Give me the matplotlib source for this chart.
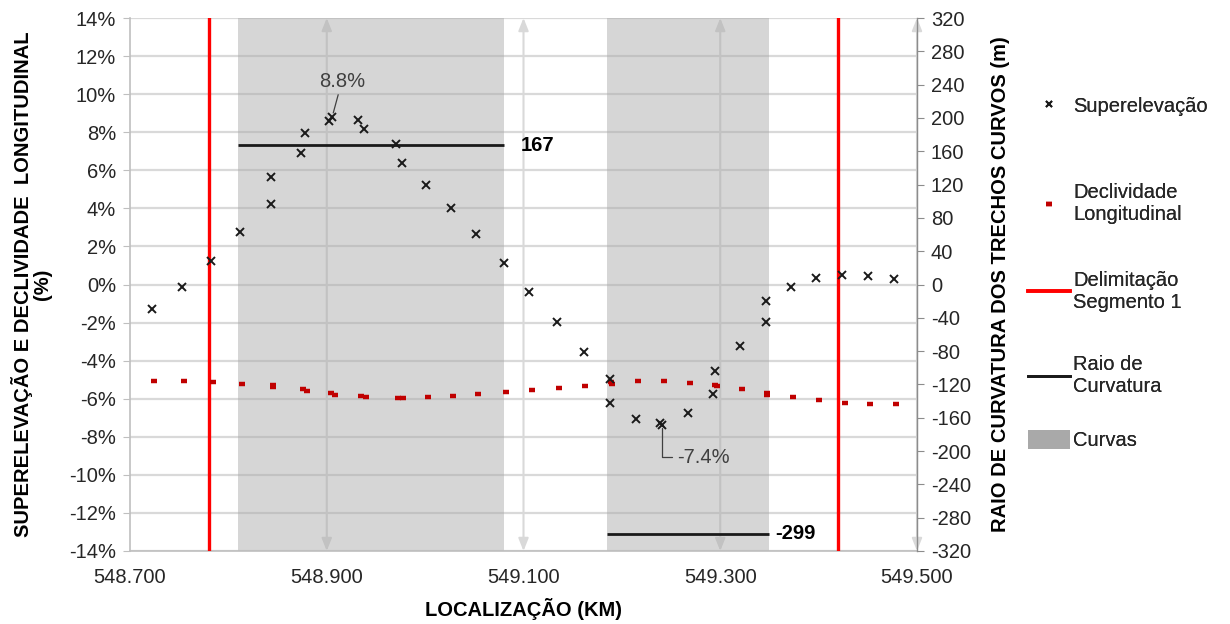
import matplotlib
matplotlib.use("Agg")
import matplotlib.pyplot as plt
from matplotlib.lines import Line2D
from matplotlib.patches import Patch
from matplotlib.ticker import FuncFormatter

plt.rcParams['font.family'] = ['Liberation Sans', 'DejaVu Sans']

# ---------------- data ----------------
super_km = [548.7227, 548.7525, 548.782, 548.812, 548.843, 548.843, 548.874, 548.878,
            548.902, 548.9055, 548.932, 548.938, 548.970, 548.976, 549.0005, 549.026,
            549.052, 549.080, 549.106, 549.134, 549.161, 549.1875, 549.1875, 549.214,
            549.239, 549.241, 549.2675, 549.293, 549.295, 549.320, 549.346, 549.346,
            549.372, 549.397, 549.424, 549.4497, 549.4766]
super_pct = [-1.29, -0.12, 1.25, 2.74, 4.21, 5.66, 6.92, 7.94,
             8.59, 8.80, 8.64, 8.15, 7.36, 6.40, 5.23, 4.00,
             2.64, 1.13, -0.40, -1.99, -3.53, -4.98, -6.21, -7.05,
             -7.28, -7.40, -6.73, -5.77, -4.54, -3.23, -1.95, -0.88,
             -0.11, 0.36, 0.50, 0.46, 0.29]

decl_km = [548.7246, 548.7546, 548.784, 548.814, 548.845, 548.845, 548.876, 548.880,
           548.904, 548.9086, 548.935, 548.940, 548.972, 548.978, 549.003, 549.028,
           549.054, 549.082, 549.1086, 549.1365, 549.163, 549.189, 549.190, 549.2164,
           549.243, 549.269, 549.295, 549.2967, 549.322, 549.348, 549.348, 549.374,
           549.400, 549.4265, 549.452, 549.4786]
decl_pct = [-5.07, -5.07, -5.14, -5.24, -5.28, -5.40, -5.49, -5.61,
            -5.70, -5.82, -5.86, -5.93, -5.98, -5.98, -5.93, -5.87,
            -5.77, -5.66, -5.55, -5.45, -5.35, -5.14, -5.24, -5.09,
            -5.09, -5.19, -5.26, -5.33, -5.51, -5.68, -5.80, -5.93,
            -6.08, -6.21, -6.26, -6.26]

segment_limits_km = [548.780, 549.420]

curve_start_km = [548.810, 549.185]
curve_end_km = [549.080, 549.350]
curve_radius_m = [167, -299]

x_ticks = [548.7, 548.9, 549.1, 549.3, 549.5]
left_ticks = list(range(-14, 15, 2))
right_ticks = list(range(-320, 321, 40))

max_label = (548.9055, 8.80, "8.8%")
min_label = (549.241, -7.40, "-7.4%")

legend_labels = ["Superelevação", "Declividade\nLongitudinal", "Delimitação\nSegmento 1",
                 "Raio de\nCurvatura", "Curvas"]

# ---------------- figure ----------------
FS = 14.5
fig = plt.figure(figsize=(12.3, 6.24), dpi=100)
ax = fig.add_axes([130 / 1230, 1 - 551 / 624, (917 - 130) / 1230, (551 - 18) / 624])
ax2 = ax.twinx()

ax.set_xlim(548.7, 549.5)
ax.set_ylim(-14, 14)
ax2.set_ylim(-320, 320)

grid_c = '#D9D9D9'
txt_c = '#262626'

# horizontal gridlines
ax.set_yticks(left_ticks)
ax.yaxis.grid(True, color=grid_c, lw=1.6, zorder=0)
ax.set_axisbelow(True)

# vertical gridlines with arrow heads
for xt in x_ticks[1:]:
    ax.annotate('', xy=(xt, 1.0), xytext=(xt, 0.0),
                xycoords=('data', 'axes fraction'), textcoords=('data', 'axes fraction'),
                arrowprops=dict(arrowstyle='<|-|>,head_length=0.75,head_width=0.3',
                                color=grid_c, lw=1.5, shrinkA=0, shrinkB=0),
                zorder=1)

# curve shading
for s, e in zip(curve_start_km, curve_end_km):
    ax.axvspan(s, e, color='#A6A6A6', alpha=0.45, lw=0, zorder=1.5)

# segment delimitation
for xv in segment_limits_km:
    ax.axvline(xv, color='#FF0000', lw=2.4, zorder=3)

# data series
ax.plot(decl_km, decl_pct, ls='none', marker='_', ms=5, mew=3.2, color='#C00000', zorder=4)
ax.plot(super_km, super_pct, ls='none', marker='x', ms=6, mew=1.4, color='#1A1A1A', zorder=5)

# radius of curvature on secondary axis
for s, e, r in zip(curve_start_km, curve_end_km, curve_radius_m):
    ax2.hlines(r, s, e, color='#1A1A1A', lw=2.0, zorder=4)
ax2.annotate(f"{curve_radius_m[0]}", xy=(curve_end_km[0], curve_radius_m[0]),
             xytext=(12, 0), textcoords='offset points', va='center', ha='left',
             fontsize=FS, fontweight='bold', color='#000000')
ax2.annotate(f"{curve_radius_m[1]}", xy=(curve_end_km[1], curve_radius_m[1]),
             xytext=(4, 0), textcoords='offset points', va='center', ha='left',
             fontsize=FS, fontweight='bold', color='#000000')

# data labels
ax.annotate(max_label[2], xy=(max_label[0], max_label[1]), xytext=(7, 19),
            textcoords='offset points', ha='center', va='bottom', fontsize=FS,
            color='#404040',
            arrowprops=dict(arrowstyle='-', color='#404040', lw=0.9, shrinkA=1, shrinkB=3))
ax.annotate(min_label[2], xy=(min_label[0], min_label[1]), xytext=(11, -23),
            textcoords='offset points', ha='left', va='center', fontsize=FS,
            color='#404040',
            arrowprops=dict(arrowstyle='-', color='#404040', lw=0.9, shrinkA=2, shrinkB=2,
                            relpos=(0, 0.5),
                            connectionstyle='angle,angleA=0,angleB=90,rad=0'))

# axes styling
ax.set_xticks(x_ticks)
ax.xaxis.set_major_formatter(FuncFormatter(lambda v, p: f"{v:.3f}"))
ax.yaxis.set_major_formatter(FuncFormatter(lambda v, p: f"{v:.0f}%"))
ax2.set_yticks(right_ticks)
ax2.yaxis.set_major_formatter(FuncFormatter(lambda v, p: f"{v:.0f}"))

ax.spines['top'].set_visible(False)
ax.spines['right'].set_visible(False)
ax2.spines['left'].set_visible(False)
ax2.spines['top'].set_visible(False)
ax2.spines['bottom'].set_visible(False)
ax.spines['left'].set_color('#BFBFBF')
ax.spines['bottom'].set_color('#BFBFBF')
ax.spines['left'].set_linewidth(1.2)
ax.spines['bottom'].set_linewidth(1.2)
ax2.spines['right'].set_color('#8C8C8C')
ax2.spines['right'].set_linewidth(1.0)

ax.tick_params(axis='x', length=0, pad=12, labelsize=FS, labelcolor=txt_c)
ax.tick_params(axis='y', length=5, color='#BFBFBF', labelsize=FS, labelcolor=txt_c, pad=5)
ax2.tick_params(axis='y', length=5, color='#8C8C8C', labelsize=FS, labelcolor=txt_c, pad=5)

ax.set_xlabel("LOCALIZAÇÃO (KM)", fontsize=FS, fontweight='bold', color='#000000', labelpad=8)
ax.set_ylabel("SUPERELEVAÇÃO E DECLIVIDADE  LONGITUDINAL\n(%)", fontsize=FS,
              fontweight='bold', color='#000000', labelpad=12.5, linespacing=1.0)
ax2.set_ylabel("RAIO DE CURVATURA DOS TRECHOS CURVOS (m)", fontsize=FS,
               fontweight='bold', color='#000000', labelpad=14.5)

# legend: one block per entry to mimic Excel's spacing
handles = [
    Line2D([], [], ls='none', marker='x', ms=4.5, mew=1.4, color='#1A1A1A'),
    Line2D([], [], ls='none', marker='_', ms=4, mew=3.2, color='#C00000'),
    Line2D([], [], color='#FF0000', lw=2.6),
    Line2D([], [], color='#1A1A1A', lw=2.0),
    Patch(facecolor='#A9A9A9', edgecolor='none'),
]
legend_y_px = [106, 204, 291, 376, 440]
for h, lab, ypx in zip(handles, legend_labels, legend_y_px):
    lg = fig.legend([h], [lab], loc='center left',
                    bbox_to_anchor=(1028 / 1230, 1 - ypx / 624),
                    frameon=False, fontsize=FS, handlelength=2.1, handletextpad=0.15,
                    handleheight=1.05 if isinstance(h, Patch) else 0.7,
                    borderpad=0, borderaxespad=0)
    for t in lg.get_texts():
        t.set_color(txt_c)
    fig.add_artist(lg)

fig.savefig("out.png", dpi=100)
